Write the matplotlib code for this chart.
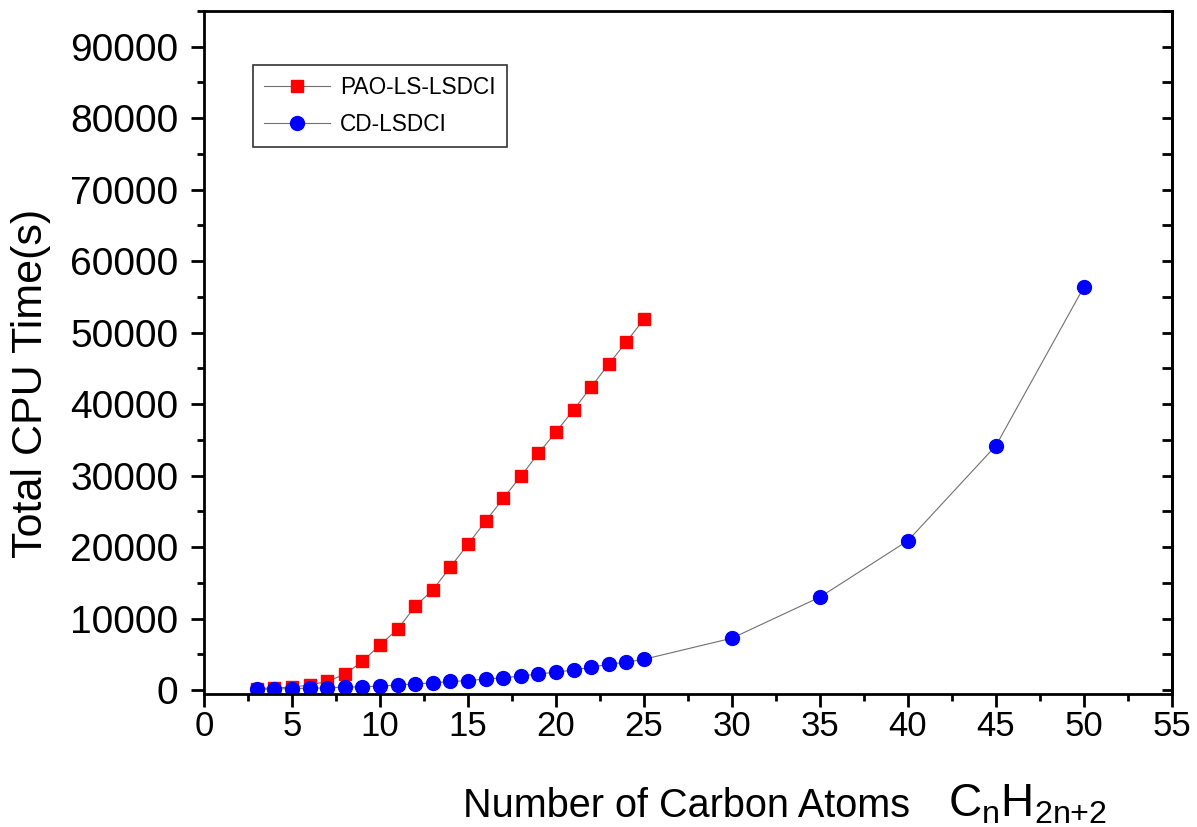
import matplotlib
matplotlib.use("Agg")
import matplotlib.pyplot as plt

plt.rcParams['font.family'] = ['Liberation Sans', 'DejaVu Sans']
plt.rcParams['mathtext.fontset'] = 'custom'
plt.rcParams['mathtext.rm'] = 'Liberation Sans'

# Data
pao_x = list(range(3, 26))
pao_y = [200, 300, 400, 700, 1200, 2200, 4000, 6300, 8500, 11700, 14000, 17200,
         20400, 23600, 26800, 29900, 33100, 36100, 39200, 42400, 45600, 48700, 51900]
cd_x = list(range(3, 26)) + [30, 35, 40, 45, 50]
cd_y = [100, 150, 200, 250, 300, 400, 450, 550, 700, 850, 1000, 1200, 1300, 1550,
        1700, 1950, 2250, 2500, 2800, 3200, 3600, 3900, 4300,
        7250, 13000, 20900, 34200, 56400]
x_ticks = list(range(0, 56, 5))
y_ticks = list(range(0, 90001, 10000))
labels = ["PAO-LS-LSDCI", "CD-LSDCI"]

fig = plt.figure(figsize=(11.97, 8.27), dpi=100)
ax = fig.add_axes([0.1704, 0.1608, 0.8087, 0.8259])

ax.plot(pao_x, pao_y, color='#707070', lw=0.8, marker='s', ms=9,
        mfc='#ff0000', mec='#ff0000', label=labels[0])
ax.plot(cd_x, cd_y, color='#707070', lw=0.8, marker='o', ms=10,
        mfc='#0000ff', mec='#0000ff', label=labels[1])

ax.set_xlim(0, 55)
ax.set_ylim(-560, 94800)
ax.set_xticks(x_ticks)
ax.set_yticks(y_ticks)
ax.set_xticks([x + 2.5 for x in x_ticks[:-1]], minor=True)
ax.set_yticks([y + 5000 for y in y_ticks], minor=True)

for s in ax.spines.values():
    s.set_linewidth(2)

ax.tick_params(which='major', direction='out', length=9.5, width=2)
ax.tick_params(which='minor', direction='out', length=5, width=2)
ax.tick_params(axis='y', labelsize=28, pad=9)
ax.tick_params(axis='x', labelsize=25, pad=2)

sec = ax.secondary_yaxis('right')
sec.set_yticks(y_ticks)
sec.set_yticks([y + 5000 for y in y_ticks], minor=True)
sec.tick_params(which='both', direction='in', length=7, width=2, labelright=False)
sec.spines['right'].set_linewidth(2)

ax.set_ylabel("Total CPU Time(s)", fontsize=31)
ax.yaxis.set_label_coords(-0.158, 0.455)
fig.text(463 / 1197, 10 / 827, "Number of Carbon Atoms", fontsize=28.5,
         ha='left', va='baseline')
fig.text(948 / 1197, 10 / 827, r"$\mathregular{C_nH_{2n{+}2}}$", fontsize=33,
         ha='left', va='baseline')

leg = ax.legend(loc='upper left', bbox_to_anchor=(0.0506, 0.921), borderaxespad=0,
                fontsize=16.3, frameon=True, fancybox=False, edgecolor='black',
                handlelength=2.9, borderpad=0.5, labelspacing=0.6,
                handletextpad=0.45, markerscale=1.0)
leg.get_frame().set_linewidth(1.2)

fig.savefig("out.png", dpi=100)
